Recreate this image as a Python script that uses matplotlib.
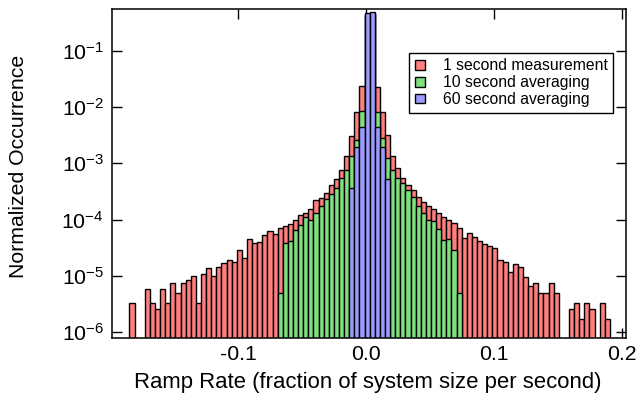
import numpy as np
import matplotlib
matplotlib.use("Agg")
import matplotlib.pyplot as plt
from matplotlib.ticker import FixedLocator, FuncFormatter, NullLocator

plt.rcParams['font.family'] = ['Liberation Sans', 'DejaVu Sans']
plt.rcParams['mathtext.fontset'] = 'custom'
plt.rcParams['mathtext.rm'] = 'Liberation Sans'
plt.rcParams['mathtext.it'] = 'Liberation Sans:italic'

# ---- data (normalized occurrence per bin, 94 bins of width 0.004) ----
bin_width = 0.004
first_edge = -0.1853

red_1s = [
    3.36e-6, 0, 0, 5.87e-6, 3.36e-6, 2.56e-6, 5.87e-6, 3.36e-6, 7.60e-6, 5.05e-6,
    7.60e-6, 8.49e-6, 1.00e-5, 3.36e-6, 1.10e-5, 1.37e-5, 1.00e-5, 1.43e-5, 1.68e-5, 1.95e-5,
    1.77e-5, 2.90e-5, 2.11e-5, 4.60e-5, 3.90e-5, 4.06e-5, 5.28e-5, 6.38e-5, 5.51e-5, 7.03e-5,
    7.73e-5, 8.40e-5, 9.89e-5, 1.21e-4, 1.33e-4, 1.53e-4, 2.24e-4, 2.46e-4, 2.94e-4, 4.13e-4,
    5.28e-4, 7.64e-4, 1.35e-3, 3.10e-3, 8.09e-3, 2.37e-2, 0.42, 0.44, 2.30e-2, 8.09e-3,
    3.19e-3, 1.35e-3, 8.18e-4, 5.43e-4, 4.13e-4, 3.37e-4, 2.56e-4, 2.09e-4, 1.75e-4, 1.53e-4,
    1.33e-4, 1.13e-4, 9.89e-5, 8.63e-5, 7.03e-5, 4.63e-5, 5.73e-5, 4.86e-5, 4.24e-5, 3.70e-5,
    3.41e-5, 3.10e-5, 1.95e-5, 1.80e-5, 1.19e-5, 1.61e-5, 1.45e-5, 9.6e-6, 6.73e-6, 7.6e-6,
    5.05e-6, 5.05e-6, 7.6e-6, 5.05e-6, 0, 0, 2.56e-6, 3.36e-6, 1.70e-6, 3.36e-6,
    2.56e-6, 0, 3.36e-6, 1.70e-6,
]

green_10s_start = 29   # bin index of first green bin
green_10s = [
    5.05e-6, 3.90e-5, 4.24e-5, 6.56e-5, 8.05e-5, 1.09e-4, 9.89e-5, 1.30e-4, 1.77e-4, 2.30e-4,
    2.83e-4, 3.61e-4, 5.43e-4, 7.64e-4, 1.35e-3, 2.61e-3, 8.63e-3, 0.43, 0.45, 8.28e-3,
    2.79e-3, 1.23e-3, 7.64e-4, 5.43e-4, 4.44e-4, 3.37e-4, 2.56e-4, 1.75e-4, 1.30e-4, 9.89e-5,
    9.5e-5, 6.74e-5, 4.35e-5, 4.49e-5, 2.90e-5, 5.05e-6,
]

blue_60s_start = 43
blue_60s = [3.61e-4, 1.98e-3, 4.49e-3, 0.463, 0.489, 4.49e-3, 1.98e-3, 5.23e-4]

labels = ["1 second measurement", "10 second averaging", "60 second averaging"]
colors = ["#FF7E7E", "#80E080", "#9B9BFF"]

x_ticks = [-0.1, 0.0, 0.1, 0.2]
x_tick_labels = ["-0.1", "0.0", "0.1", "0.2"]
y_ticks = [1e-6, 1e-5, 1e-4, 1e-3, 1e-2, 1e-1]

# ---- figure ----
fig = plt.figure(figsize=(6.37, 3.94), dpi=100)
ax = fig.add_axes([0.1758, 0.1429, 0.8069, 0.8355])
ax.set_yscale('log')

n_bins = len(red_1s)
edges = first_edge + bin_width * np.arange(n_bins)
base = 1e-8

series = [
    (edges, np.array(red_1s)),
    (edges[green_10s_start:green_10s_start + len(green_10s)], np.array(green_10s)),
    (edges[blue_60s_start:blue_60s_start + len(blue_60s)], np.array(blue_60s)),
]
for (xs, vals), col, lab in zip(series, colors, labels):
    m = vals > 0
    ax.bar(xs[m], vals[m] - base, bottom=base, width=bin_width, align='edge',
           color=col, edgecolor='black', linewidth=1.0, label=lab)

ax.set_xlim(-0.199, 0.2033)
ax.set_ylim(8.0e-7, 0.56)
ax.set_axisbelow(True)

ax.xaxis.set_major_locator(FixedLocator(x_ticks))
ax.set_xticklabels(x_tick_labels)
ax.xaxis.set_minor_locator(NullLocator())
ax.yaxis.set_major_locator(FixedLocator(y_ticks))
ax.yaxis.set_minor_locator(NullLocator())
ax.yaxis.set_major_formatter(FuncFormatter(
    lambda v, p: r'$\mathregular{10^{%d}}$' % int(round(np.log10(v)))))

ax.tick_params(axis='both', which='major', direction='in', length=7.5, width=1.0,
               top=True, right=True, labelsize=15.3, colors='black')
ax.tick_params(axis='x', pad=5)
ax.tick_params(axis='y', pad=6)
for s in ax.spines.values():
    s.set_linewidth(1.1)

ax.set_xlabel("Ramp Rate (fraction of system size per second)", fontsize=15.9)
ax.set_ylabel("Normalized Occurrence", fontsize=15.3)
ax.xaxis.set_label_coords(0.497, -0.105)
ax.yaxis.set_label_coords(-0.163, 0.52)

leg = ax.legend(loc='upper right', bbox_to_anchor=(0.975, 0.865), fontsize=11.3,
                frameon=True, fancybox=False, edgecolor='black', framealpha=1,
                handlelength=0.7, handleheight=0.55, handletextpad=1.1,
                labelspacing=0.12, borderpad=0.35, borderaxespad=0)
leg.get_frame().set_linewidth(1.0)

fig.savefig("out.png", dpi=100)
